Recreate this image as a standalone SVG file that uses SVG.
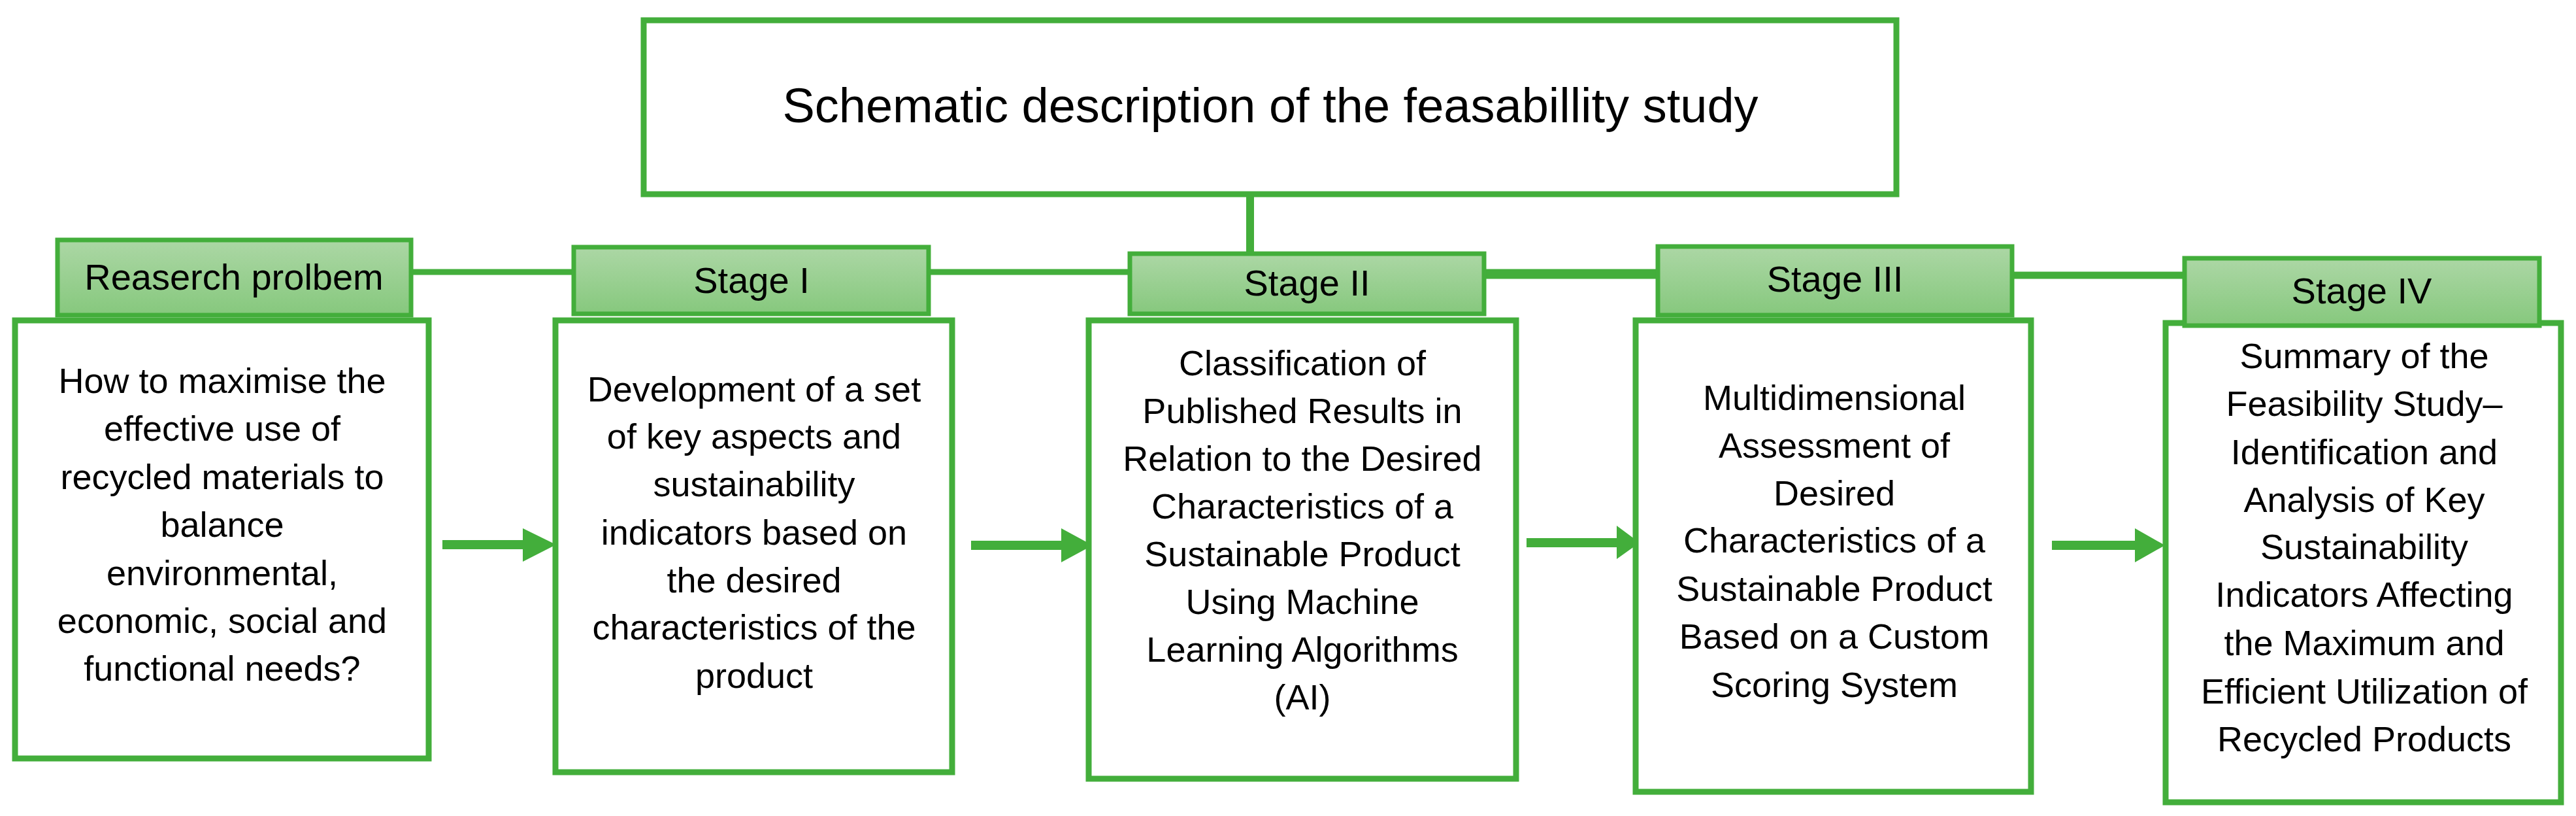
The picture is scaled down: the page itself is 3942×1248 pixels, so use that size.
<svg xmlns="http://www.w3.org/2000/svg" width="3942" height="1248" viewBox="0 0 3942 1248">
<defs>
<linearGradient id="hg" x1="0" y1="0" x2="0" y2="1"><stop offset="0" stop-color="#acd7a5"/><stop offset="1" stop-color="#86c87d"/></linearGradient>
</defs>
<style>
.t{font-family:"Liberation Sans",Arial,sans-serif;font-size:54px;fill:#000;text-anchor:middle}
.h{font-family:"Liberation Sans",Arial,sans-serif;font-size:56px;fill:#000;text-anchor:middle}
.hb{fill:url(#hg);stroke:#43ae3b;stroke-width:7}
.cb{fill:#fff;stroke:#43ae3b;stroke-width:9}
.ln{stroke:#43ae3b;fill:none}
.ar{fill:#43ae3b}
</style>
<rect width="3942" height="1248" fill="#fff"/>
<g id="connectors">
<line class="ln" x1="1913" y1="300" x2="1913" y2="388" stroke-width="12"/>
<line class="ln" x1="630" y1="416" x2="878" y2="416" stroke-width="9"/>
<line class="ln" x1="1422" y1="416" x2="1728" y2="416" stroke-width="9"/>
<line class="ln" x1="2272" y1="419" x2="2536" y2="419" stroke-width="15"/>
<line class="ln" x1="3080" y1="421" x2="3342" y2="421" stroke-width="11"/>
<path class="ar" d="M677 826H800V808L851 833L800 859V840H677Z"/>
<path class="ar" d="M1486 827H1624V808L1672 834L1624 860V841H1486Z"/>
<path class="ar" d="M2336 823H2474V804L2509 830L2474 855V837H2336Z"/>
<path class="ar" d="M3140 827H3267V808L3313 834L3267 860V841H3140Z"/>
</g>
<g id="title">
<rect class="cb" x="985" y="31" width="1917" height="266" stroke-width="10"/>
<text class="t" style="font-size:74px" x="1944" y="187">Schematic description of the feasabillity study</text>
</g>
<g id="box1">
<rect class="cb" x="23" y="490" width="633" height="670"/>
<text class="t" x="340"><tspan x="340" y="601">How to maximise the</tspan><tspan x="340" y="674">effective use of</tspan><tspan x="340" y="748">recycled materials to</tspan><tspan x="340" y="821">balance</tspan><tspan x="340" y="895">environmental,</tspan><tspan x="340" y="968">economic, social and</tspan><tspan x="340" y="1041">functional needs?</tspan></text>
</g>
<g id="box2">
<rect class="cb" x="850" y="490" width="607" height="691"/>
<text class="t"><tspan x="1154" y="614">Development of a set</tspan><tspan x="1154" y="686">of key aspects and</tspan><tspan x="1154" y="759">sustainability</tspan><tspan x="1154" y="833">indicators based on</tspan><tspan x="1154" y="906">the desired</tspan><tspan x="1154" y="978">characteristics of the</tspan><tspan x="1154" y="1052">product</tspan></text>
</g>
<g id="box3">
<rect class="cb" x="1666" y="490" width="654" height="701"/>
<text class="t"><tspan x="1993" y="574">Classification of</tspan><tspan x="1993" y="647">Published Results in</tspan><tspan x="1993" y="720">Relation to the Desired</tspan><tspan x="1993" y="793">Characteristics of a</tspan><tspan x="1993" y="866">Sustainable Product</tspan><tspan x="1993" y="939">Using Machine</tspan><tspan x="1993" y="1012">Learning Algorithms</tspan><tspan x="1993" y="1085">(AI)</tspan></text>
</g>
<g id="box4">
<rect class="cb" x="2503" y="490" width="605" height="721"/>
<text class="t"><tspan x="2807" y="627">Multidimensional</tspan><tspan x="2807" y="700">Assessment of</tspan><tspan x="2807" y="773">Desired</tspan><tspan x="2807" y="845">Characteristics of a</tspan><tspan x="2807" y="919">Sustainable Product</tspan><tspan x="2807" y="992">Based on a Custom</tspan><tspan x="2807" y="1066">Scoring System</tspan></text>
</g>
<g id="box5">
<rect class="cb" x="3314" y="494" width="605" height="733"/>
<text class="t"><tspan x="3618" y="563">Summary of the</tspan><tspan x="3618" y="636">Feasibility Study–</tspan><tspan x="3618" y="710">Identification and</tspan><tspan x="3618" y="783">Analysis of Key</tspan><tspan x="3618" y="855">Sustainability</tspan><tspan x="3618" y="928">Indicators Affecting</tspan><tspan x="3618" y="1002">the Maximum and</tspan><tspan x="3618" y="1076">Efficient Utilization of</tspan><tspan x="3618" y="1149">Recycled Products</tspan></text>
</g>
<g id="h0"><rect class="hb" x="88" y="367" width="541" height="115"/><text class="h" x="358" y="443">Reaserch prolbem</text></g>
<g id="h1"><rect class="hb" x="878" y="378" width="543" height="102"/><text class="h" x="1150" y="448">Stage I</text></g>
<g id="h2"><rect class="hb" x="1729" y="388" width="542" height="92"/><text class="h" x="2000" y="452">Stage II</text></g>
<g id="h3"><rect class="hb" x="2537" y="377" width="542" height="105"/><text class="h" x="2808" y="446">Stage III</text></g>
<g id="h4"><rect class="hb" x="3343" y="395" width="543" height="103"/><text class="h" x="3614" y="464">Stage IV</text></g>
</svg>
